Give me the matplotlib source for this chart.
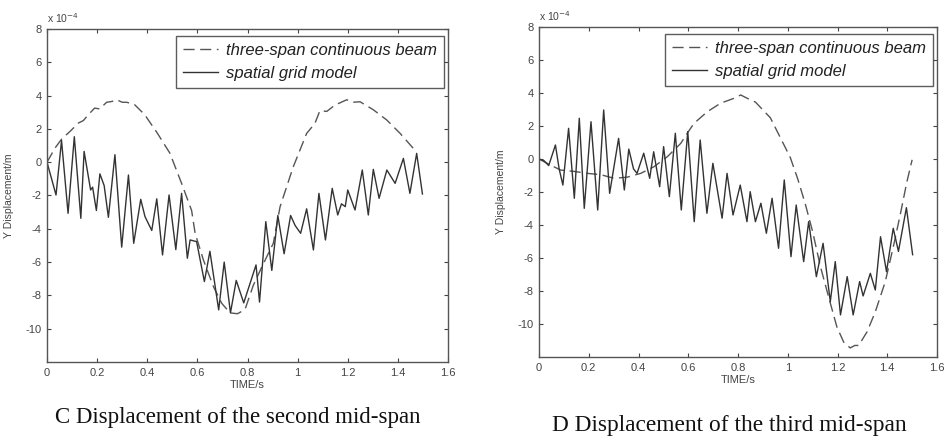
import matplotlib
matplotlib.use("Agg")
import matplotlib.pyplot as plt
import numpy as np

# ---------------- data (displacement in units of 1e-4 m) ----------------
c_solid_t = [0.0, 0.036, 0.058, 0.084, 0.109, 0.135, 0.148, 0.174, 0.182, 0.197, 0.211, 0.228,
             0.245, 0.271, 0.298, 0.325, 0.346, 0.374, 0.391, 0.418, 0.438, 0.461, 0.487, 0.514,
             0.537, 0.560, 0.571, 0.597, 0.628, 0.650, 0.685, 0.707, 0.732, 0.755, 0.785, 0.834,
             0.848, 0.873, 0.897, 0.921, 0.946, 0.972, 0.990, 1.012, 1.036, 1.063, 1.085, 1.111,
             1.138, 1.160, 1.175, 1.190, 1.200, 1.229, 1.258, 1.282, 1.302, 1.325, 1.356, 1.389,
             1.422, 1.448, 1.475, 1.498]
c_solid_v = [0.0, -1.97, 1.3, -3.07, 1.53, -3.37, 0.65, -1.67, -1.5, -2.9, -0.7, -1.4,
             -3.31, 0.45, -5.1, -0.77, -4.87, -2.23, -3.27, -4.1, -2.2, -5.57, -1.97, -5.25,
             -1.87, -5.77, -4.67, -4.77, -7.17, -5.35, -8.87, -6.0, -9.05, -7.1, -8.45, -6.17,
             -8.4, -3.57, -6.5, -3.2, -5.5, -3.2, -3.8, -4.27, -2.8, -5.27, -1.87, -4.67,
             -1.57, -3.17, -2.5, -2.67, -1.67, -2.87, -0.47, -3.17, -0.43, -2.17, -0.47, -1.27,
             0.23, -1.87, 0.53, -1.91]

c_dash_t = [0.0, 0.032, 0.059, 0.092, 0.125, 0.145, 0.165, 0.19, 0.21, 0.238, 0.26, 0.278,
            0.30, 0.318, 0.35, 0.39, 0.44, 0.49, 0.537, 0.577, 0.591, 0.624, 0.664, 0.697,
            0.73, 0.76, 0.79, 0.823, 0.86, 0.903, 0.93, 0.982, 1.036, 1.069, 1.089, 1.116,
            1.149, 1.196, 1.22, 1.249, 1.302, 1.356, 1.409, 1.475]
c_dash_v = [0.0, 0.85, 1.4, 1.85, 2.35, 2.5, 2.85, 3.25, 3.2, 3.6, 3.65, 3.75,
            3.6, 3.6, 3.45, 2.85, 1.75, 0.55, -1.27, -2.9, -4.27, -5.87, -7.47, -8.47,
            -9.05, -9.1, -8.85, -7.4, -6.2, -4.87, -2.67, -0.3, 1.73, 2.33, 3.1, 3.05,
            3.43, 3.75, 3.6, 3.63, 3.15, 2.53, 1.73, 0.6]

d_solid_t = [0.0, 0.02, 0.039, 0.066, 0.081, 0.096, 0.119, 0.142, 0.162, 0.182, 0.209, 0.236,
             0.26, 0.284, 0.32, 0.343, 0.361, 0.38, 0.394, 0.421, 0.445, 0.461, 0.485, 0.501,
             0.524, 0.548, 0.572, 0.598, 0.624, 0.648, 0.675, 0.699, 0.736, 0.756, 0.78, 0.809,
             0.836, 0.849, 0.87, 0.892, 0.914, 0.937, 0.963, 0.986, 1.013, 1.034, 1.064, 1.084,
             1.115, 1.142, 1.171, 1.191, 1.212, 1.239, 1.263, 1.289, 1.303, 1.332, 1.352, 1.373,
             1.397, 1.424, 1.445, 1.477, 1.502]
d_solid_v = [0.0, -0.1, -0.4, 0.85, -0.6, -1.58, 1.86, -2.38, 2.47, -2.99, 2.26, -3.09,
             2.97, -2.08, 1.25, -1.88, 0.6, -0.6, -0.87, 0.35, -1.17, 0.44, -1.68, 0.75,
             -2.28, 1.56, -3.09, 1.66, -3.8, 1.15, -3.29, -0.26, -3.59, -0.87, -3.39, -1.58,
             -3.8, -1.98, -3.8, -2.68, -4.5, -2.38, -5.41, -1.27, -5.92, -2.79, -6.22, -3.8,
             -7.13, -5.11, -8.65, -6.22, -9.45, -7.13, -9.45, -7.43, -8.3, -6.93, -7.94, -4.71,
             -6.83, -4.2, -5.6, -2.95, -5.8]

d_dash_t = [0.0, 0.045, 0.087, 0.14, 0.194, 0.248, 0.302, 0.355, 0.409, 0.462, 0.516, 0.57,
            0.596, 0.623, 0.677, 0.73, 0.784, 0.811, 0.837, 0.87, 0.93, 0.97, 1.01, 1.04,
            1.07, 1.10, 1.131, 1.165, 1.198, 1.225, 1.251, 1.27, 1.285, 1.319, 1.352, 1.392,
            1.426, 1.452, 1.479, 1.50]
d_dash_v = [0.0, -0.36, -0.67, -0.75, -0.87, -0.95, -1.17, -1.1, -0.87, -0.47, 0.14, 0.95,
            1.56, 2.16, 2.87, 3.38, 3.68, 3.88, 3.68, 3.45, 2.5, 1.3, 0.1, -1.2,
            -2.7, -4.4, -6.5, -8.4, -10.2, -11.1, -11.45, -11.3, -11.3, -10.47, -9.26, -7.44,
            -5.21, -3.39, -1.38, -0.05]

xticks = [0, 0.2, 0.4, 0.6, 0.8, 1.0, 1.2, 1.4, 1.6]
xticklabels = ["0", "0.2", "0.4", "0.6", "0.8", "1", "1.2", "1.4", "1.6"]
yticks = [-10, -8, -6, -4, -2, 0, 2, 4, 6, 8]
legend_labels = ["three-span continuous beam", "spatial grid model"]
captions = ["C Displacement of the second mid-span", "D Displacement of the third mid-span"]

# ---------------- figure ----------------
plt.rcParams['font.family'] = ['Liberation Sans', 'DejaVu Sans']
fig = plt.figure(figsize=(9.48, 4.41), dpi=100)
W, H = 948.0, 441.0

def make_axes(x0, x1, ytop, ybot):
    return fig.add_axes([x0 / W, 1 - ybot / H, (x1 - x0) / W, (ybot - ytop) / H])

axC = make_axes(47, 448, 29, 362)
axD = make_axes(539, 937, 27, 357)

panels = [
    (axC, c_dash_t, c_dash_v, c_solid_t, c_solid_v),
    (axD, d_dash_t, d_dash_v, d_solid_t, d_solid_v),
]

tick_col = '#444444'
for ax, dt, dv, st, sv in panels:
    ld, = ax.plot(dt, dv, color='#555555', lw=1.0, linestyle=(0, (8, 4)))
    ls, = ax.plot(st, sv, color='#333333', lw=1.0)
    ax.set_xlim(0, 1.6)
    ax.set_ylim(-12, 8)
    ax.set_xticks(xticks)
    ax.set_xticklabels(xticklabels)
    ax.set_yticks(yticks)
    ax.set_yticklabels([str(v) for v in yticks])
    ax.tick_params(direction='in', length=3, width=0.8, top=True, right=True,
                   labelsize=8, colors=tick_col, pad=4)
    for s in ax.spines.values():
        s.set_color('#555555')
        s.set_linewidth(1.0)
    ax.set_xlabel("TIME/s", fontsize=8, color=tick_col, labelpad=2)
    ax.set_ylabel("Y Displacement/m", fontsize=7.5, color=tick_col, labelpad=8)
    ax.text(0.0, 1.012, r"x 10$^{-4}$", transform=ax.transAxes, fontsize=7.5,
            color=tick_col, ha='left', va='bottom')
    leg = ax.legend([ld, ls], legend_labels, loc='upper right',
                    bbox_to_anchor=(0.99, 0.979), borderaxespad=0,
                    prop={'style': 'italic', 'size': 12.0},
                    frameon=True, fancybox=False, edgecolor='#333333',
                    handlelength=2.1, handletextpad=0.5, borderpad=0.4,
                    labelspacing=0.5)
    leg.get_frame().set_linewidth(1.0)
    for t in leg.get_texts():
        t.set_color('#222222')

fig.text(238 / W, 1 - 417 / H, captions[0], fontsize=16.5, family='Liberation Serif',
         ha='center', va='center', color='#111111')
fig.text(729 / W, 1 - 425 / H, captions[1], fontsize=16.8, family='Liberation Serif',
         ha='center', va='center', color='#111111')

fig.savefig("out.png", dpi=100)
